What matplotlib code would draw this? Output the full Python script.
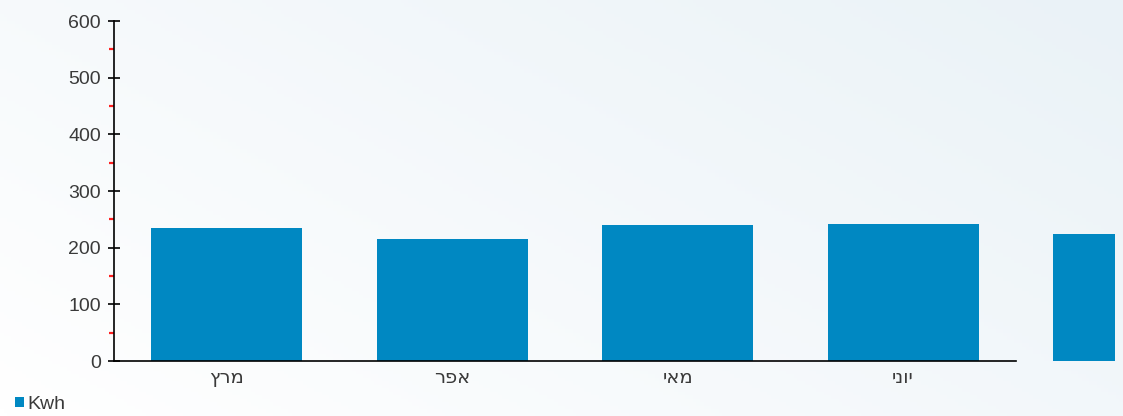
import numpy as np
import matplotlib.pyplot as plt
from matplotlib.ticker import MultipleLocator
from matplotlib.transforms import Bbox, TransformedBbox

# monthly consumption (Kwh), last bar sits past the right edge of the axis
months = ["מרץ", "אפר", "מאי", "יוני", ""]
kwh = [235, 215, 240, 242, 224]
series_name = "Kwh"

bar_color = "#0088c2"
text_color = "#3a3a3a"
plt.rcParams['font.family'] = ['Liberation Sans', 'DejaVu Sans']

fig = plt.figure(figsize=(11.23, 4.16), dpi=100)

# soft light background gradient
bg = fig.add_axes([0, 0, 1, 1], zorder=-10)
gx, gy = np.meshgrid(np.linspace(0, 1, 300), np.linspace(0, 1, 120))
grad = 0.6 * gx + 0.4 * (1 - gy)
bg.imshow(grad, cmap=plt.matplotlib.colors.LinearSegmentedColormap.from_list(
    "bg", ["#ffffff", "#eaf2f7"]), aspect="auto", extent=[0, 1, 0, 1])
bg.axis("off")

ax = fig.add_axes([0.1015, 0.1322, 0.803, 0.8173])
ax.patch.set_alpha(0)

x = np.arange(len(kwh))
bars = ax.bar(x, kwh, width=0.67, color=bar_color, label=series_name, clip_on=False)

# chart container cuts the overflowing bar a little before the image edge
clip = TransformedBbox(Bbox([[0, 0], [1115 / 1123, 1]]), fig.transFigure)
for b in bars:
    b.set_clip_box(clip)
    b.set_clip_on(True)

ax.set_xlim(-0.5, 3.5)
ax.set_ylim(0, 600)
ax.yaxis.set_major_locator(MultipleLocator(100))
ax.yaxis.set_minor_locator(MultipleLocator(50))

# matplotlib has no bidi, so reverse the Hebrew for display
ax.set_xticks(x[:4])
ax.set_xticklabels([m[::-1] for m in months[:4]], fontsize=14, color=text_color,
                   family=['DejaVu Sans'])
ax.tick_params(axis="x", length=0, pad=5)
ax.tick_params(axis="y", which="major", direction="inout", length=9, width=1.2,
               labelsize=14, labelcolor=text_color, pad=5)
ax.tick_params(axis="y", which="minor", direction="out", length=3.5, width=1.6,
               color="#ff2020")

for s in ["top", "right"]:
    ax.spines[s].set_visible(False)
for s in ["left", "bottom"]:
    ax.spines[s].set_linewidth(1.2)
    ax.spines[s].set_color("black")

fig.legend(handles=[bars], labels=[series_name], loc="lower left",
           bbox_to_anchor=(0.003, -0.02), frameon=False, fontsize=14,
           handlelength=0.45, handleheight=0.45, handletextpad=0.2,
           borderaxespad=0.2, labelcolor=text_color)

fig.savefig("out.png", dpi=100)
